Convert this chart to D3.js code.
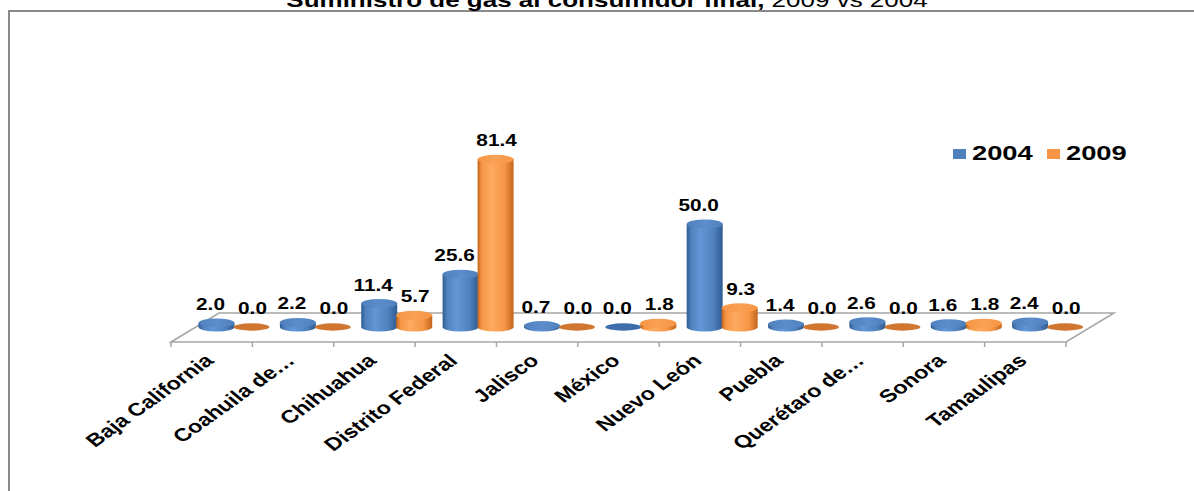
<!DOCTYPE html>
<html>
<head>
<meta charset="utf-8">
<script src="https://cdn.jsdelivr.net/npm/d3@7"></script>
<style>
  html, body { margin: 0; padding: 0; background: #ffffff; }
  svg { display: block; }
  text { font-family: "Liberation Sans", Arial, sans-serif; }
</style>
</head>
<body>
<svg id="chart" width="1194" height="491"></svg>
<script>
const categories = ["Baja California", "Coahuila de…", "Chihuahua", "Distrito Federal", "Jalisco", "México", "Nuevo León", "Puebla", "Querétaro de…", "Sonora", "Tamaulipas"];
const seriesNames = ["2004", "2009"];
const values2004 = [2.0, 2.2, 11.4, 25.6, 0.7, 0.0, 50.0, 1.4, 2.6, 1.6, 2.4];
const values2009 = [0.0, 0.0, 5.7, 81.4, 0.0, 1.8, 9.3, 0.0, 0.0, 1.8, 0.0];
const titleBold = "Suministro de gas al consumidor final,";
const titleRest = " 2009 vs 2004";

const W = 1194, H = 491;
const SX = 1.3;               // horizontal stretch of the reference picture
const svg = d3.select("#chart");

// ---- geometry ----
const frontY = 342, backY = 313;
const depthX = 48;
const midShiftX = depthX / 2;
const x = d3.scaleBand().domain(categories).range([171, 1066]).paddingInner(0).paddingOuter(0);
const inner = d3.scaleBand().domain(seriesNames).range([4, 74]).padding(0);
const y = d3.scaleLinear().domain([0, 90]).range([327, 327 - 90 * 2.06]);

const palette = {
  "2004": { base: "#4f81bd", dark: "#2f5b91", light: "#6396d6", top: "#5d8dcc", flat: "#3e6dab" },
  "2009": { base: "#f79646", dark: "#c2661c", light: "#fdaa60", top: "#f9a154", flat: "#d07630" }
};
const labelShift = { "2004": -6, "2009": 1 };

// ---- defs ----
const defs = svg.append("defs");
seriesNames.forEach((s, i) => {
  const p = palette[s];
  const g = defs.append("linearGradient").attr("id", "body" + i)
    .attr("x1", "0").attr("x2", "1").attr("y1", "0").attr("y2", "0");
  g.append("stop").attr("offset", "0").attr("stop-color", p.dark);
  g.append("stop").attr("offset", "0.12").attr("stop-color", p.base);
  g.append("stop").attr("offset", "0.38").attr("stop-color", p.light);
  g.append("stop").attr("offset", "0.75").attr("stop-color", p.base);
  g.append("stop").attr("offset", "1").attr("stop-color", p.dark);
  const t = defs.append("linearGradient").attr("id", "top" + i)
    .attr("x1", "0").attr("x2", "1").attr("y1", "0").attr("y2", "0");
  t.append("stop").attr("offset", "0").attr("stop-color", p.base);
  t.append("stop").attr("offset", "0.5").attr("stop-color", p.top);
  t.append("stop").attr("offset", "1").attr("stop-color", p.base);
});

// ---- border ----
svg.append("path")
  .attr("d", `M9,${H} L9,11 L${W},11`)
  .attr("fill", "none").attr("stroke", "#8a8a8a").attr("stroke-width", 2);

// ---- title (cut off at top, as in the reference) ----
const title = svg.append("text")
  .attr("transform", `translate(607,7) scale(${SX},1)`)
  .attr("text-anchor", "middle")
  .attr("font-size", 20)
  .attr("fill", "#000");
title.append("tspan").attr("font-weight", "bold").text(titleBold);
title.append("tspan").attr("font-weight", "normal").text(titleRest);

// ---- floor ----
const x0 = x.range()[0], x1 = x.range()[1];
const floor = svg.append("g").attr("fill", "none").attr("stroke", "#a6a6a6").attr("stroke-width", 1.5);
floor.append("path").attr("d",
  `M${x0},${frontY} L${x0 + depthX},${backY} L${x1 + depthX},${backY} L${x1},${frontY} Z`);
const tickXs = categories.map(c => x(c)).concat([x1]);
floor.selectAll("line.tick").data(tickXs).enter().append("line")
  .attr("x1", d => d).attr("x2", d => d)
  .attr("y1", frontY).attr("y2", frontY + 5);

// ---- bars (cylinders) ----
const rows = [];
categories.forEach((c, ci) => {
  seriesNames.forEach((s, si) => {
    const v = si === 0 ? values2004[ci] : values2009[ci];
    rows.push({ c, s, si, v });
  });
});

const barsG = svg.append("g");
const ry = 4.5;
rows.forEach(d => {
  const cx = x(d.c) + midShiftX + inner(d.s) + inner.bandwidth() / 2;
  const rx = inner.bandwidth() / 2 + 0.5;
  const yb = y(0), yt = y(d.v);
  const p = palette[d.s];
  if (d.v === 0) {
    barsG.append("ellipse").attr("cx", cx).attr("cy", yb).attr("rx", rx).attr("ry", ry - 0.8)
      .attr("fill", p.flat);
    return;
  }
  barsG.append("path")
    .attr("d", `M${cx - rx},${yt} L${cx - rx},${yb} A${rx},${ry} 0 0 0 ${cx + rx},${yb} L${cx + rx},${yt} Z`)
    .attr("fill", `url(#body${d.si})`);
  barsG.append("ellipse").attr("cx", cx).attr("cy", yt).attr("rx", rx).attr("ry", ry)
    .attr("fill", `url(#top${d.si})`);
});

// ---- value labels ----
const fmt = d3.format(".1f");
svg.append("g").selectAll("text").data(rows).enter().append("text")
  .attr("transform", d => {
    const cx = x(d.c) + midShiftX + inner(d.s) + inner.bandwidth() / 2 + labelShift[d.s];
    return `translate(${cx},${y(d.v) - 13}) scale(${SX},1)`;
  })
  .attr("text-anchor", "middle")
  .attr("font-size", 16)
  .attr("font-weight", "bold")
  .attr("fill", "#000")
  .text(d => fmt(d.v));

// ---- category labels ----
svg.append("g").selectAll("text").data(categories).enter().append("text")
  .attr("transform", c => `translate(${x(c) + x.bandwidth() / 2 + 3},362) scale(${SX},1) rotate(-43)`)
  .attr("text-anchor", "end")
  .attr("font-size", 18)
  .attr("font-weight", "bold")
  .attr("fill", "#000")
  .text(c => c);

// ---- legend ----
const legend = svg.append("g");
const legendX = [953, 1047];
seriesNames.forEach((s, i) => {
  legend.append("rect").attr("x", legendX[i]).attr("y", 149).attr("width", 13).attr("height", 10)
    .attr("fill", palette[s].base);
  legend.append("text")
    .attr("transform", `translate(${legendX[i] + 19},160) scale(${SX},1)`)
    .attr("font-size", 21).attr("font-weight", "bold").attr("fill", "#000")
    .text(s);
});
</script>
</body>
</html>
